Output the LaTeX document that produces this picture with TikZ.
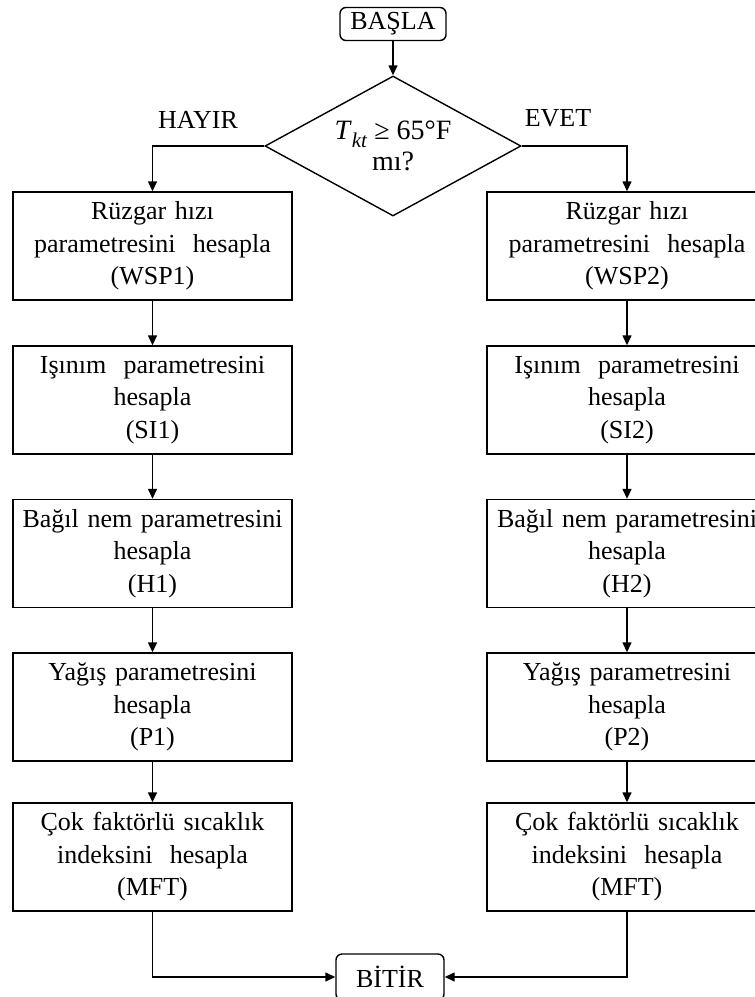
\documentclass[tikz,border=0pt]{standalone}
\usepackage{fontspec}
\setmainfont{Liberation Serif}
\usetikzlibrary{shapes.geometric,arrows.meta}
\begin{document}
\begin{tikzpicture}[x=1pt,y=-1pt,
  every node/.style={font=\fontsize{26}{32.5}\selectfont},
  procbox/.style={draw,line width=1.4pt,minimum width=279pt,minimum height=108pt,text width=275pt,align=center,inner sep=0pt},
  term/.style={draw,rounded corners=6pt,line width=1.4pt,inner sep=0pt},
  decision/.style={draw,diamond,shape aspect=1.83,minimum width=256pt,minimum height=140pt,inner sep=0pt,align=center,line width=1.4pt,font=\fontsize{28}{31}\selectfont},
  flow/.style={line width=1.4pt,-{Triangle[length=10pt,width=9pt]}},
  lbl/.style={inner sep=0pt}
]
\useasboundingbox (0,0) rectangle (755,997);
\node[term,minimum width=106pt,minimum height=33pt] (start) at (393,24) {BAŞLA};
\node[decision] (dec) at (393,146) {\textit{T}\raisebox{-0.28em}{\fontsize{21}{21}\selectfont\textit{kt}}\ ≥\ 65°F\\mı?};
\node[lbl] (hayir) at (198,120) {HAYIR};
\node[lbl] (evet) at (558,118) {EVET};

\node[procbox] (L1) at (152.5,246) {Rüzgar hızı\\parametresini\ \ hesapla\\(WSP1)};
\node[procbox] (L2) at (152.5,400) {Işınım\ \ parametresini\\hesapla\\(SI1)};
\node[procbox] (L3) at (152.5,553.5) {Bağıl nem parametresini\\hesapla\\(H1)};
\node[procbox] (L4) at (152.5,707) {Yağış parametresini\\hesapla\\(P1)};
\node[procbox] (L5) at (152.5,857) {Çok faktörlü sıcaklık\\indeksini\ \ hesapla\\(MFT)};

\node[procbox,minimum width=280pt] (R1) at (627,246) {Rüzgar hızı\\parametresini\ \ hesapla\\(WSP2)};
\node[procbox,minimum width=280pt] (R2) at (627,400) {Işınım\ \ parametresini\\hesapla\\(SI2)};
\node[procbox,minimum width=280pt] (R3) at (627,553.5) {Bağıl nem parametresini\\hesapla\\(H2)};
\node[procbox,minimum width=280pt] (R4) at (627,707) {Yağış parametresini\\hesapla\\(P2)};
\node[procbox,minimum width=280pt] (R5) at (627,857) {Çok faktörlü sıcaklık\\indeksini\ \ hesapla\\(MFT)};

\node[term,minimum width=108pt,minimum height=46pt] (end) at (390,977) {BİTİR};

\draw[flow] (start) -- (dec);
\draw[flow] (dec.west) -| (L1.north);
\draw[flow] (dec.east) -| (R1.north);
\foreach \a/\b in {L1/L2,L2/L3,L3/L4,L4/L5,R1/R2,R2/R3,R3/R4,R4/R5}
  \draw[flow] (\a) -- (\b);
\draw[flow] (L5.south) |- (end.west);
\draw[flow] (R5.south) |- (end.east);
\end{tikzpicture}
\end{document}
